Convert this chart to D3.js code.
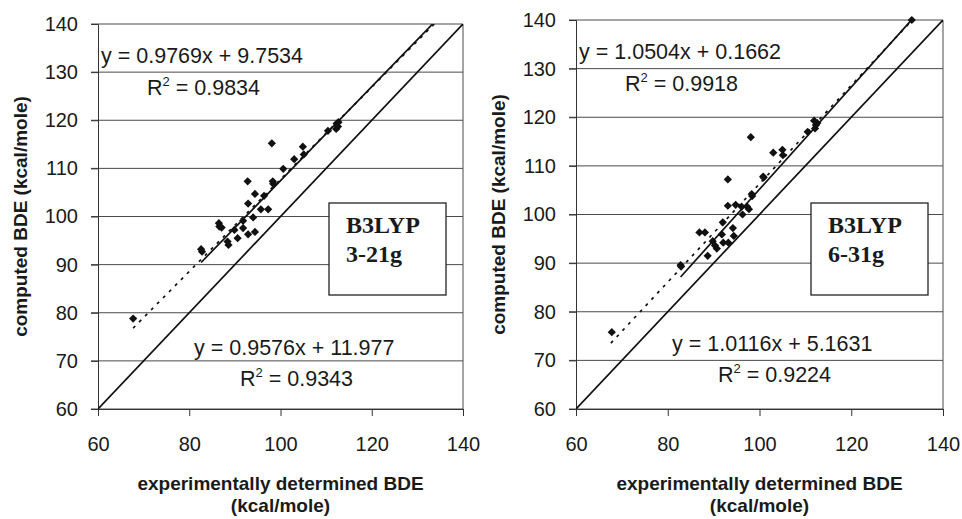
<!DOCTYPE html>
<html>
<head>
<meta charset="utf-8">
<script src="https://cdn.jsdelivr.net/npm/d3@7"></script>
<style>
  body { margin: 0; background: #fff; }
  text { font-family: "Liberation Sans", Arial, sans-serif; fill: #1a1a1a; }
</style>
</head>
<body>
<div id="chart"></div>
<script>
// experimental vs computed BDE, B3LYP/3-21g
const leftExp = [67.7, 82.6, 82.8, 86.5, 86.6, 87.1, 88.4, 88.6, 89.9, 90.6, 91.8, 91.8, 92.9, 92.9,
  94.0, 94.4, 94.4, 96.4, 95.7, 97.3, 98.4, 98.3, 92.8, 98.1, 100.6, 103.0, 104.9, 105.1, 110.4,
  112.3, 112.7, 112.2, 112.6];
const leftCalc = [78.8, 93.2, 92.7, 98.6, 97.9, 97.7, 94.8, 94.1, 97.2, 95.5, 99.1, 97.6, 102.7, 96.3,
  99.8, 96.8, 104.7, 104.3, 101.5, 101.5, 106.8, 107.3, 107.3, 115.2, 109.9, 111.9, 114.5, 112.9, 117.8,
  119.3, 119.6, 118.2, 118.7];

// experimental vs computed BDE, B3LYP/6-31g
const rightExp = [67.8, 82.8, 82.9, 86.9, 88.1, 88.7, 89.8, 90.3, 90.7, 91.8, 92.0, 92.1, 93.1, 93.2,
  94.2, 94.4, 94.8, 96.1, 96.3, 97.3, 97.7, 98.4, 98.3, 93.1, 98.1, 100.8, 100.9, 103.0, 105.0, 105.1,
  110.5, 111.9, 112.3, 112.6, 112.1, 133.2];
const rightCalc = [75.8, 89.6, 89.3, 96.3, 96.3, 91.5, 94.5, 93.6, 93.0, 95.9, 98.4, 94.2, 101.8, 94.2,
  97.2, 95.6, 102.0, 101.6, 100.0, 101.6, 101.1, 103.8, 104.2, 107.2, 115.9, 107.8, 107.6, 112.7, 113.3, 112.2,
  117.0, 119.3, 118.4, 118.8, 117.7, 140.0];

const xTicks = [60, 80, 100, 120, 140];
const yTicks = [60, 70, 80, 90, 100, 110, 120, 130, 140];

// trendlines: slope, intercept, first x, last x
const leftFitSolid = [0.9769, 9.7534, 82.6, 133.3];
const leftFitDotted = [0.9576, 11.977, 67.7, 133.7];
const rightFitSolid = [1.0504, 0.1662, 82.8, 133.2];
const rightFitDotted = [1.0116, 5.1631, 67.6, 133.2];

// equation text: top line, top R2, bottom line, bottom R2
const leftLabels = ["y = 0.9769x + 9.7534", "0.9834", "y = 0.9576x + 11.977", "0.9343"];
const rightLabels = ["y = 1.0504x + 0.1662", "0.9918", "y = 1.0116x + 5.1631", "0.9224"];
const methodName = "B3LYP";
const basisSets = ["3-21g", "6-31g"];

const svg = d3.select("#chart")
  .append("svg")
  .attr("width", 962)
  .attr("height", 519);

function drawPanel(p) {
  const width = p.x1 - p.x0, height = p.y1 - p.y0;

  const x = d3.scaleLinear().domain([60, 140]).range([0, width]);
  const y = d3.scaleLinear().domain([60, 140]).range([height, 0]);

  const g = svg.append("g")
    .attr("transform", `translate(${p.x0},${p.y0})`);

  g.append("clipPath")
    .attr("id", p.id + "-clip")
    .append("rect")
    .attr("width", width)
    .attr("height", height);

  // gridlines, reaching out past the axis like excel ticks
  g.selectAll(".grid")
    .data(yTicks)
    .enter().append("line")
    .attr("x1", -7)
    .attr("x2", width)
    .attr("y1", d => y(d))
    .attr("y2", d => y(d))
    .attr("stroke", "#4a4a4a")
    .attr("stroke-width", 1);

  g.append("line")
    .attr("x1", width).attr("x2", width)
    .attr("y1", 0).attr("y2", height)
    .attr("stroke", "#4a4a4a");

  const yAxis = g.append("g")
    .call(d3.axisLeft(y).tickValues(yTicks).tickSize(7).tickPadding(13));
  const xAxis = g.append("g")
    .attr("transform", `translate(0,${height})`)
    .call(d3.axisBottom(x).tickValues(xTicks).tickSize(7).tickPadding(21));

  [xAxis, yAxis].forEach(a => {
    a.select(".domain").attr("stroke", "#333");
    a.selectAll(".tick line").attr("stroke", "#333");
    a.selectAll("text").style("font-size", "20px").attr("fill", "#1a1a1a");
  });

  const lines = g.append("g").attr("clip-path", `url(#${p.id}-clip)`);

  // y = x
  lines.append("line")
    .attr("x1", x(60)).attr("y1", y(60))
    .attr("x2", x(140)).attr("y2", y(140))
    .attr("stroke", "#111")
    .attr("stroke-width", 1.7);

  const fitLine = d3.line()
    .x(d => x(d[0]))
    .y(d => y(d[1]));

  [[p.solid, null], [p.dotted, "3,5.5"]].forEach(([f, dash]) => {
    const pts = [f[2], f[3]].map(v => [v, f[0] * v + f[1]]);
    lines.append("path")
      .datum(pts)
      .attr("fill", "none")
      .attr("stroke", "#111")
      .attr("stroke-width", 1.7)
      .attr("stroke-dasharray", dash)
      .attr("d", fitLine);
  });

  const diamond = d3.symbol().type(d3.symbolSquare).size(34);
  g.selectAll(".pt")
    .data(p.exp.map((v, i) => [v, p.calc[i]]))
    .enter().append("path")
    .attr("d", diamond)
    .attr("transform", d => `translate(${x(d[0])},${y(d[1])}) rotate(45)`)
    .attr("fill", "#111");

  // regression equations
  const eq = [[3, 39], [49, 71], [96, 331], [142, 362]];
  p.labels.forEach((t, i) => {
    const txt = g.append("text")
      .attr("x", eq[i][0])
      .attr("y", eq[i][1])
      .style("font-size", "21.5px");
    if (i % 2 === 0) {
      txt.text(t);
    } else {
      txt.append("tspan").text("R");
      txt.append("tspan").attr("dy", -9).style("font-size", "13px").text("2");
      txt.append("tspan").attr("dy", 9).text(" = " + t);
    }
  });

  // method box
  const box = g.append("g")
    .attr("transform", `translate(${p.box[0]},${p.box[1]})`);
  box.append("rect")
    .attr("width", 117)
    .attr("height", 92)
    .attr("fill", "#fff")
    .attr("stroke", "#222")
    .attr("stroke-width", 1.3);
  [methodName, p.basis].forEach((t, i) => {
    box.append("text")
      .attr("x", 17)
      .attr("y", 30 + i * 29)
      .style("font-family", "'Liberation Serif', 'Times New Roman', serif")
      .style("font-weight", "bold")
      .style("font-size", "24px")
      .text(t);
  });

  // axis titles
  g.append("text")
    .attr("text-anchor", "middle")
    .attr("x", width / 2)
    .attr("y", height + 81)
    .style("font-size", "19px")
    .style("font-weight", "bold")
    .text("experimentally determined BDE");
  g.append("text")
    .attr("text-anchor", "middle")
    .attr("x", width / 2)
    .attr("y", height + 103)
    .style("font-size", "19px")
    .style("font-weight", "bold")
    .text("(kcal/mole)");
  g.append("text")
    .attr("text-anchor", "middle")
    .attr("transform", `translate(-71,${height / 2}) rotate(-90)`)
    .style("font-size", "19px")
    .style("font-weight", "bold")
    .text("computed BDE (kcal/mole)");
}

drawPanel({
  id: "left", x0: 98, x1: 463, y0: 24, y1: 409,
  exp: leftExp, calc: leftCalc,
  solid: leftFitSolid, dotted: leftFitDotted,
  labels: leftLabels, basis: basisSets[0], box: [231, 179]
});

drawPanel({
  id: "right", x0: 576, x1: 943, y0: 20, y1: 409,
  exp: rightExp, calc: rightCalc,
  solid: rightFitSolid, dotted: rightFitDotted,
  labels: rightLabels, basis: basisSets[1], box: [235, 183]
});
</script>
</body>
</html>
